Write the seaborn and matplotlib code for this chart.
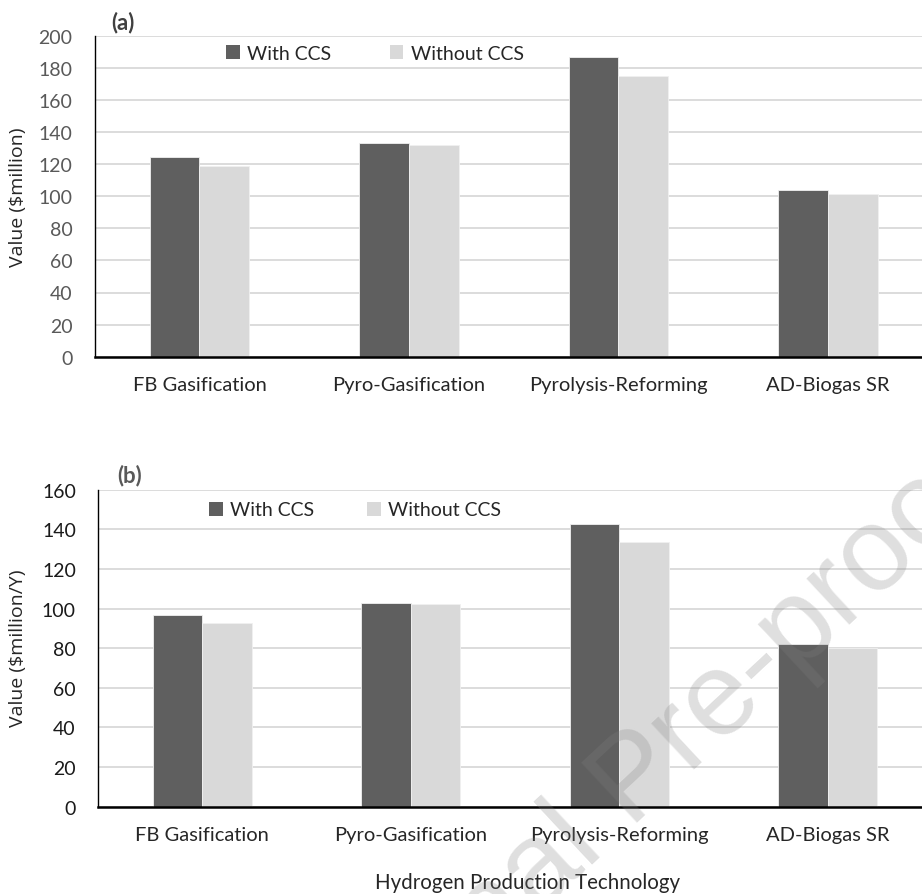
import matplotlib
matplotlib.use("Agg")
import matplotlib.pyplot as plt
from matplotlib.patches import Patch
import seaborn as sns
import pandas as pd

# Hydrogen production technologies and cost figures
technologies = ["FB Gasification", "Pyro-Gasification", "Pyrolysis-Reforming", "AD-Biogas SR"]
series_names = ["With CCS", "Without CCS"]

capital_with_ccs = [124.2, 133.0, 186.9, 103.9]
capital_without_ccs = [118.6, 132.1, 175.1, 101.2]

annual_with_ccs = [96.9, 102.8, 142.7, 82.3]
annual_without_ccs = [92.9, 102.3, 133.6, 80.0]

yticks_a = list(range(0, 201, 20))
yticks_b = list(range(0, 161, 20))

DARK = "#5f5f5f"
LIGHT = "#d9d9d9"
GRID = "#d9d9d9"
FONT = "Lato"


def long_table(with_vals, without_vals):
    rows = []
    for tech, v in zip(technologies, with_vals):
        rows.append({"tech": tech, "series": series_names[0], "value": v})
    for tech, v in zip(technologies, without_vals):
        rows.append({"tech": tech, "series": series_names[1], "value": v})
    return pd.DataFrame(rows)


sns.set_theme(style="white")
plt.rcParams["font.family"] = [FONT, "DejaVu Sans"]

W, H = 922, 895
fig = plt.figure(figsize=(W / 100, H / 100), dpi=100)


def px_axes(left, top, width, height):
    return fig.add_axes([left / W, 1 - (top + height) / H, width / W, height / H])


ax_a = px_axes(94.7, 36.7, 838, 321)
ax_b = px_axes(98.1, 490.7, 834, 317)


def draw_panel(ax, df, yticks, tick_color, ylabel, label_y):
    sns.barplot(data=df, x="tech", y="value", hue="series", hue_order=series_names,
                order=technologies, palette=[DARK, LIGHT], width=0.475, gap=0,
                dodge=True, legend=False, ax=ax, zorder=3,
                edgecolor="#f0f0f0", linewidth=0.6)
    ax.set_ylim(yticks[0], yticks[-1])
    ax.set_yticks(yticks)
    ax.set_xlim(-0.5, 3.5)
    ax.yaxis.grid(True, color=GRID, linewidth=1.3, zorder=0)
    ax.set_axisbelow(True)
    for s in ("top", "right"):
        ax.spines[s].set_visible(False)
    ax.spines["left"].set_color("black")
    ax.spines["left"].set_linewidth(1.0)
    ax.spines["bottom"].set_color("black")
    ax.spines["bottom"].set_linewidth(1.8)
    ax.spines["bottom"].set_zorder(5)
    ax.tick_params(axis="y", length=0, pad=16, labelsize=14, labelcolor=tick_color)
    ax.tick_params(axis="x", length=0, pad=14, labelsize=14.5, labelcolor="#262626")
    ax.set_xlabel("")
    ax.set_ylabel("")
    fig.text(18 / W, 1 - label_y / H, ylabel, rotation=90, ha="center", va="center",
             fontsize=14, family=["Open Sans", "DejaVu Sans"], color="#262626")


draw_panel(ax_a, long_table(capital_with_ccs, capital_without_ccs), yticks_a,
           "#595959", "Value ($million)", 197)
draw_panel(ax_b, long_table(annual_with_ccs, annual_without_ccs), yticks_b,
           "#1a1a1a", "Value ($million/Y)", 648)

handles = [Patch(facecolor=DARK, edgecolor="none"), Patch(facecolor=LIGHT, edgecolor="none")]
for hx, hy, gap in ((226, 54, 3.0), (209, 511, 2.7)):
    fig.legend(handles, series_names, loc="center left",
               bbox_to_anchor=(hx / W, 1 - hy / H), frameon=False, ncol=2,
               borderpad=0, borderaxespad=0, handlelength=0.7, handleheight=0.7,
               handletextpad=0.4, columnspacing=gap, fontsize=14,
               labelcolor="#262626")

fig.text(123 / W, 1 - 23 / H, "(a)", ha="center", va="center", fontsize=16,
         fontweight="bold", color="#404040")
fig.text(130 / W, 1 - 476 / H, "(b)", ha="center", va="center", fontsize=16,
         fontweight="bold", color="#595959")

fig.text(528 / W, 1 - 883 / H, "Hydrogen Production Technology", ha="center",
         va="center", fontsize=14.8, color="#262626")

# diagonal watermark
fig.text(636 / W, 1 - 782 / H, "Journal Pre-proof", rotation=43, ha="center",
         va="center", fontsize=86, color="gray", alpha=0.25,
         family=["Liberation Sans", "DejaVu Sans"], rotation_mode="anchor", zorder=10)

fig.savefig("out.png", dpi=100)
